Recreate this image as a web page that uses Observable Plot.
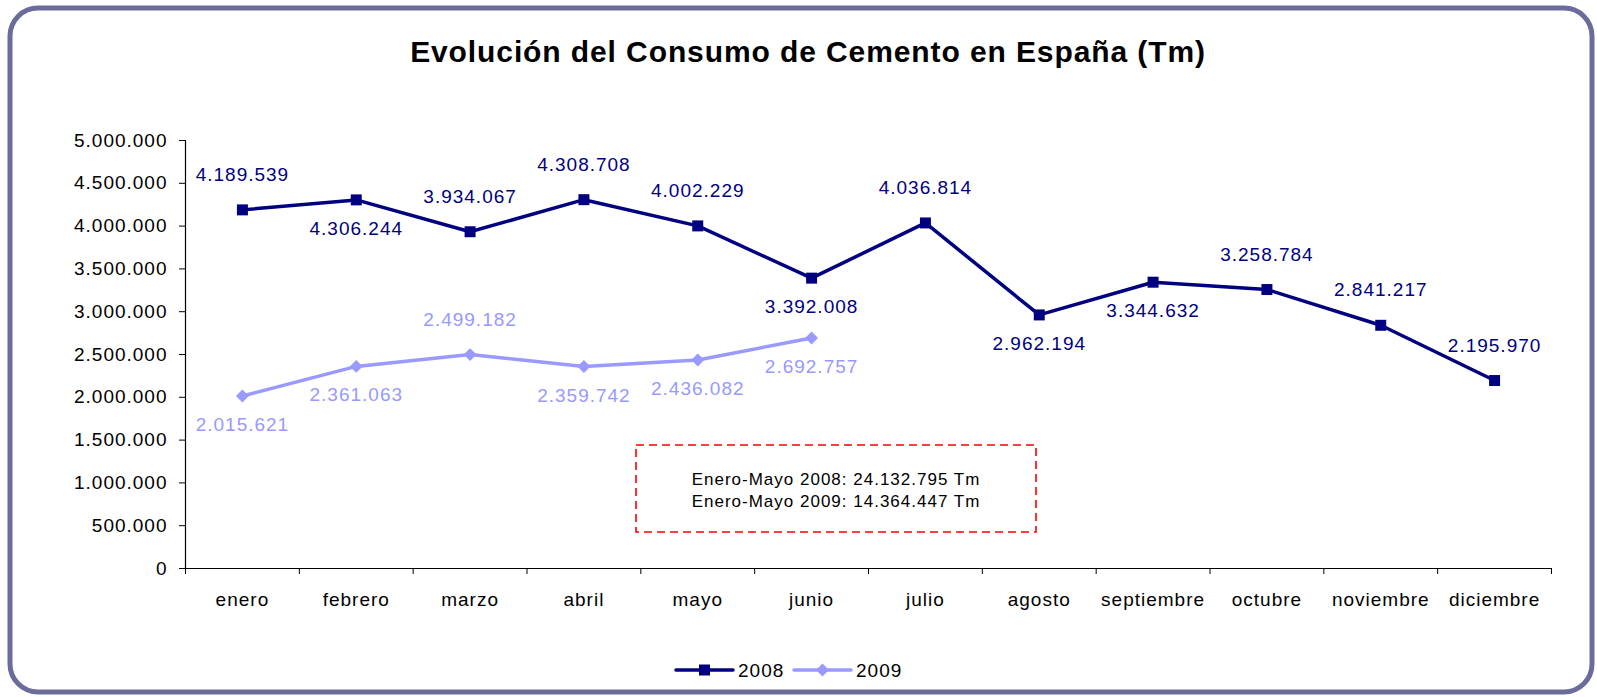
<!DOCTYPE html>
<html>
<head>
<meta charset="utf-8">
<script src="https://cdn.jsdelivr.net/npm/d3@7"></script>
<script src="https://cdn.jsdelivr.net/npm/@observablehq/plot@0.6"></script>
<style>
  html, body { margin: 0; padding: 0; background: #fff; }
  #chart { width: 1597px; height: 697px; }
</style>
</head>
<body>
<div id="chart"></div>
<script>
const title = "Evolución del Consumo de Cemento en España (Tm)";
const months = ["enero","febrero","marzo","abril","mayo","junio","julio","agosto","septiembre","octubre","noviembre","diciembre"];
const values2008 = [4189539, 4306244, 3934067, 4308708, 4002229, 3392008, 4036814, 2962194, 3344632, 3258784, 2841217, 2195970];
const values2009 = [2015621, 2361063, 2499182, 2359742, 2436082, 2692757];
const labelPos2008 = ["above","below","above","above","above","below","above","below","below","above","above","above"];
const labelPos2009 = ["below","below","above","below","below","below"];
const yTicks = [0, 500000, 1000000, 1500000, 2000000, 2500000, 3000000, 3500000, 4000000, 4500000, 5000000];
const noteLines = ["Enero-Mayo 2008: 24.132.795 Tm", "Enero-Mayo 2009: 14.364.447 Tm"];
const seriesNames = ["2008", "2009"];

const C2008 = "#000080", C2009 = "#9999FF";
const fmt = d3.formatLocale({decimal: ",", thousands: ".", grouping: [3], currency: ["", ""]}).format(",d");

const rows2008 = values2008.map((v, i) => ({i: i + 0.5, v, pos: labelPos2008[i]}));
const rows2009 = values2009.map((v, i) => ({i: i + 0.5, v, pos: labelPos2009[i]}));

const font = "'Liberation Sans', Arial, sans-serif";

const plot = Plot.plot({
  width: 1597,
  height: 697,
  marginLeft: 185,
  marginRight: 46,
  marginTop: 140,
  marginBottom: 129,
  style: {fontFamily: font, fontSize: "19px", letterSpacing: "1px", color: "#000", background: "#fff", overflow: "visible"},
  x: {type: "linear", domain: [0, 12]},
  y: {domain: [0, 5000000]},
  marks: [
    Plot.axisY({ticks: yTicks, tickFormat: fmt, tickSize: 6, tickPadding: 12, label: null, fontSize: 19}),
    Plot.axisX({ticks: d3.range(13), tickFormat: () => "", tickSize: 6, label: null}),
    Plot.axisX({ticks: months.map((_, i) => i + 0.5), tickFormat: t => months[Math.round(t - 0.5)], tickSize: 0, tickPadding: 24, label: null, fontSize: 19}),
    Plot.ruleX([0], {stroke: "#000", strokeWidth: 1.2}),
    Plot.ruleY([0], {stroke: "#000", strokeWidth: 1.2}),
    Plot.line(rows2009, {x: "i", y: "v", stroke: C2009, strokeWidth: 3.5}),
    Plot.dot(rows2009, {x: "i", y: "v", symbol: "diamond2", r: 5.8, fill: C2009, stroke: "none"}),
    Plot.line(rows2008, {x: "i", y: "v", stroke: C2008, strokeWidth: 3.5}),
    Plot.dot(rows2008, {x: "i", y: "v", symbol: "square", r: 6.2, fill: C2008, stroke: "none"}),
    Plot.text(rows2008.filter(d => d.pos === "above"), {x: "i", y: "v", text: d => fmt(d.v), dy: -35, fill: C2008, fontSize: 19}),
    Plot.text(rows2008.filter(d => d.pos === "below"), {x: "i", y: "v", text: d => fmt(d.v), dy: 29, fill: C2008, fontSize: 19}),
    Plot.text(rows2009.filter(d => d.pos === "above"), {x: "i", y: "v", text: d => fmt(d.v), dy: -35, fill: C2009, fontSize: 19}),
    Plot.text(rows2009.filter(d => d.pos === "below"), {x: "i", y: "v", text: d => fmt(d.v), dy: 29, fill: C2009, fontSize: 19})
  ]
});

document.getElementById("chart").appendChild(plot);
const svg = d3.select(plot);

// outer rounded border
svg.insert("rect", ":first-child")
  .attr("x", 10).attr("y", 8).attr("width", 1582).attr("height", 684)
  .attr("rx", 28).attr("ry", 28)
  .attr("fill", "#fff").attr("stroke", "#6B6B9C").attr("stroke-width", 5);

// title
svg.append("text")
  .attr("x", 808).attr("y", 62)
  .attr("text-anchor", "middle")
  .attr("font-family", font).attr("font-weight", "bold").attr("font-size", 30)
  .attr("letter-spacing", "0.9px")
  .attr("fill", "#000")
  .text(title);

// note box
svg.append("rect")
  .attr("x", 636).attr("y", 445).attr("width", 400).attr("height", 87)
  .attr("fill", "none").attr("stroke", "#FF0000").attr("stroke-width", 1.6)
  .attr("stroke-dasharray", "8,5");
noteLines.forEach((t, k) => {
  svg.append("text")
    .attr("x", 836).attr("y", 479 + k * 22).attr("dy", "0.36em")
    .attr("text-anchor", "middle")
    .attr("font-family", font).attr("font-size", 17).attr("letter-spacing", "1px")
    .attr("fill", "#000")
    .text(t);
});

// legend
const legend = svg.append("g").attr("font-family", font).attr("font-size", 19).attr("letter-spacing", "1px").attr("text-anchor", "start");
const items = [
  {name: seriesNames[0], color: C2008, sym: d3.symbolSquare, size: 121, x0: 676},
  {name: seriesNames[1], color: C2009, sym: d3.symbolDiamond2, size: 105, x0: 794}
];
items.forEach(it => {
  const ly = 670;
  legend.append("line").attr("x1", it.x0).attr("x2", it.x0 + 57).attr("y1", ly).attr("y2", ly)
    .attr("stroke", it.color).attr("stroke-width", 3.5).attr("stroke-linecap", "round");
  legend.append("path").attr("d", d3.symbol(it.sym, it.size)()).attr("transform", `translate(${it.x0 + 28.5},${ly})`)
    .attr("fill", it.color);
  legend.append("text").attr("x", it.x0 + 62).attr("y", ly).attr("dy", "0.36em")
    .attr("text-anchor", "start").attr("fill", "#000").text(it.name);
});
</script>
</body>
</html>
